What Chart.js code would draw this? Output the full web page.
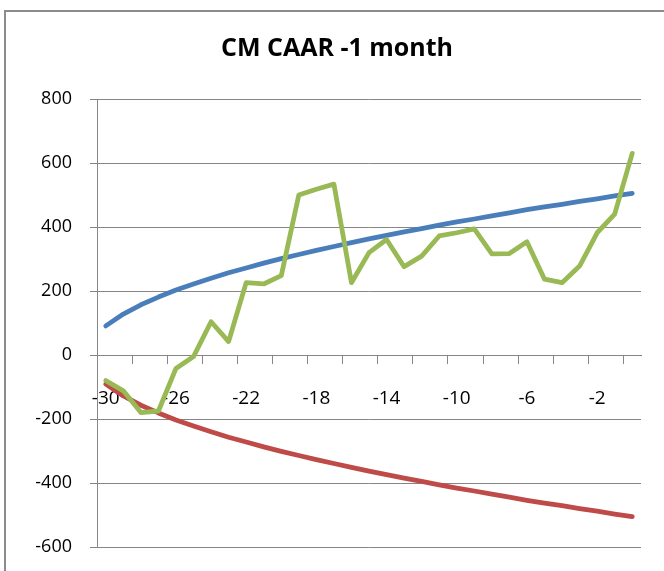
<!DOCTYPE html>
<html>
<head>
<meta charset="utf-8">
<script src="https://cdn.jsdelivr.net/npm/chart.js@4.4.1/dist/chart.umd.min.js"></script>
<style>
  body { margin: 0; background: #fff; }
  #wrap { width: 664px; height: 571px; }
</style>
</head>
<body>
<div id="wrap"><canvas id="caar" width="664" height="571"></canvas></div>
<script>
const days = ["-30","-29","-28","-27","-26","-25","-24","-23","-22","-21","-20","-19","-18","-17","-16","-15","-14","-13","-12","-11","-10","-9","-8","-7","-6","-5","-4","-3","-2","-1","0"];

const upperBand = [91,128,157,181,203,222,240,257,272,287,301,314,327,339,351,363,374,385,395,406,416,425,435,444,454,463,471,480,488,497,505];
const lowerBand = [-91,-128,-157,-181,-203,-222,-240,-257,-272,-287,-301,-314,-327,-339,-351,-363,-374,-385,-395,-406,-416,-425,-435,-444,-454,-463,-471,-480,-488,-497,-505];
const caar = [-80,-112,-180,-175,-42,-5,104,42,226,222,248,500,518,534,226,320,361,276,309,372,382,394,316,317,354,237,226,278,382,440,630];

const yTicks = [-600,-400,-200,0,200,400,600,800];

const chartTitle = 'CM CAAR -1 month';
const axisGrey = '#868686';

// frame of the original chart object (only left and top edges are visible)
// and the title, centred on the whole chart object rather than the canvas
const framePlugin = {
  id: 'frame',
  beforeDraw(chart) {
    const c = chart.ctx;
    c.save();
    c.fillStyle = '#fff';
    c.fillRect(0, 0, chart.width, chart.height);
    c.fillStyle = '#8c8c8c';
    c.fillRect(4, 10, 2, chart.height - 10);
    c.fillRect(4, 10, chart.width - 4, 2);
    c.restore();
  },
  afterDraw(chart) {
    const c = chart.ctx;
    c.save();
    c.fillStyle = '#000';
    c.font = 'bold 25px "Open Sans"';
    c.textAlign = 'center';
    c.textBaseline = 'middle';
    c.fillText(chartTitle, 337, 49);
    c.restore();
  }
};

const ctx = document.getElementById('caar').getContext('2d');

const myChart = new Chart(ctx, {
  type: 'line',
  data: {
    labels: days,
    datasets: [
      {
        label: 'Upper',
        data: upperBand,
        borderColor: '#4A7EBB',
        order: 1
      },
      {
        label: 'Lower',
        data: lowerBand,
        borderColor: '#BE4B48',
        order: 2
      },
      {
        label: 'CAAR',
        data: caar,
        borderColor: '#98B954',
        order: 0
      }
    ]
  },
  options: {
    responsive: false,
    animation: false,
    layout: { padding: { left: 0, right: 23, top: 99, bottom: 24 } },
    elements: {
      point: { radius: 0 },
      line: { borderWidth: 4.8, tension: 0, borderCapStyle: 'round', borderJoinStyle: 'round', fill: false }
    },
    plugins: {
      legend: { display: false },
      tooltip: { enabled: false },
      title: { display: false }
    },
    scales: {
      x: {
        type: 'category',
        position: { y: 0 },
        offset: true,
        grid: {
          offset: true,
          drawOnChartArea: false,
          tickLength: 8,
          tickColor: (c) => (c.index % 2 === 0 ? axisGrey : 'rgba(0,0,0,0)')
        },
        border: { color: axisGrey, width: 1 },
        ticks: {
          autoSkip: false,
          maxRotation: 0,
          padding: 24,
          color: '#000',
          font: { family: 'Open Sans', size: 19 },
          callback: (v, i) => (i % 4 === 0 ? days[i] : '')
        }
      },
      y: {
        min: -600,
        max: 800,
        afterBuildTicks: (s) => { s.ticks = yTicks.map(v => ({ value: v })); },
        afterFit: (s) => { s.width = 97; s.paddingTop = 0; s.paddingBottom = 0; },
        grid: { color: axisGrey, tickLength: 7, tickColor: axisGrey },
        border: { color: axisGrey, width: 1 },
        ticks: {
          padding: 18,
          color: '#000',
          font: { family: 'Open Sans', size: 18 }
        }
      }
    }
  },
  plugins: [framePlugin]
});
</script>
</body>
</html>
